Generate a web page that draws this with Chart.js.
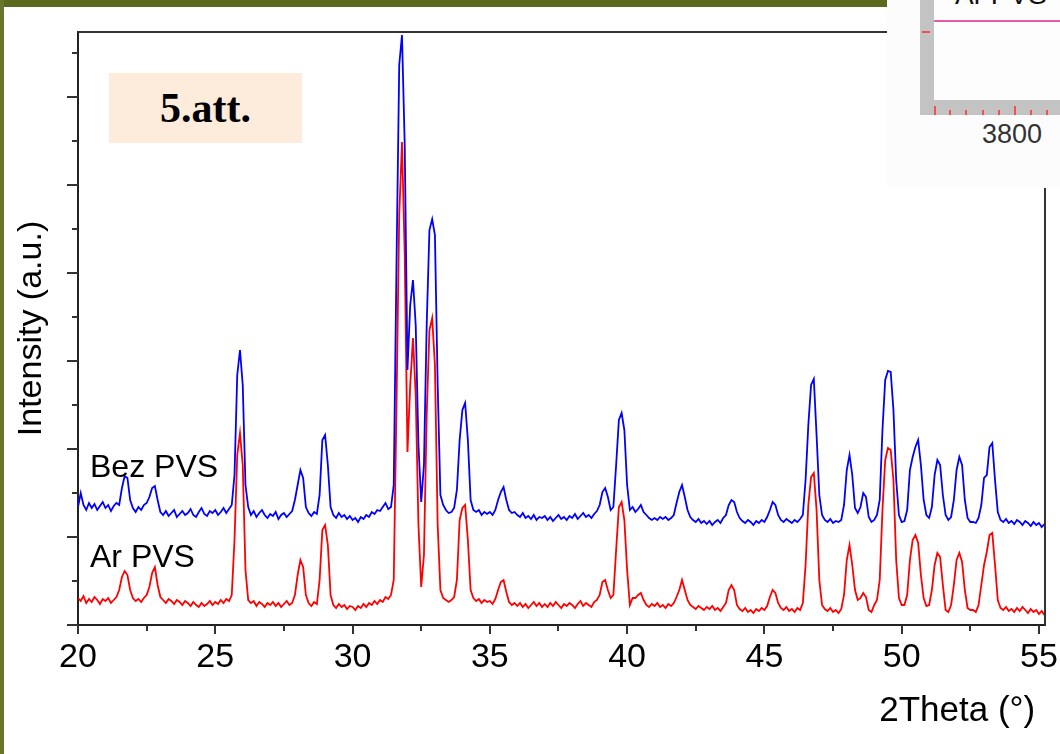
<!DOCTYPE html>
<html>
<head>
<meta charset="utf-8">
<script src="https://cdn.jsdelivr.net/npm/chart.js@4.4.1/dist/chart.umd.min.js"></script>
<style>
  html, body { margin: 0; padding: 0; background: #fff; }
  #wrap { position: relative; width: 1060px; height: 754px; overflow: hidden; background: #fff; }
  #myChart { position: absolute; left: 0; top: 0; }
  .bar-top { position: absolute; left: 0; top: 0; width: 887px; height: 7px; background: #5b6a1d; }
  .bar-left { position: absolute; left: 0; top: 0; width: 4px; height: 754px; background: #66762a; }
  .tag { position: absolute; left: 109px; top: 73px; width: 193px; height: 70px; background: #fdebdc;
         font: bold 42px "Liberation Serif", "Times New Roman", serif; color: #000;
         display: flex; align-items: center; justify-content: center; }
  .series-label { position: absolute; font: 32px "Liberation Sans", Arial, sans-serif; color: #000; line-height: 1; }
  .inset { position: absolute; left: 887px; top: 0; width: 173px; height: 188px; background: #fcfcfc; overflow: hidden; }
  .inset .gv { position: absolute; left: 33px; top: 0; width: 14px; height: 115px; background: #c3c3c3; }
  .inset .gh { position: absolute; left: 33px; top: 100px; width: 140px; height: 15px; background: #c3c3c3; }
  .inset .plot { position: absolute; left: 47px; top: 0; width: 126px; height: 100px; background: #fdfdfd; }
  .inset .trace { position: absolute; left: 47px; top: 20px; width: 126px; height: 2px; background: #e85aa5; }
  .inset .cut { position: absolute; left: 68px; top: -21px; font: 28px "Liberation Sans", Arial, sans-serif; color: #111; }
  .inset .num { position: absolute; left: 95px; top: 119px; font: 27px "Liberation Sans", Arial, sans-serif; color: #333; }
  .inset .rt { position: absolute; width: 2px; background: #f05050; }
</style>
</head>
<body>
<div id="wrap">
  <canvas id="myChart" width="1060" height="754"></canvas>
  <div class="bar-top"></div>
  <div class="bar-left"></div>
  <div class="tag">5.att.</div>
  <div class="series-label" style="left:90px; top:450px;">Bez PVS</div>
  <div class="series-label" style="left:90px; top:540px;">Ar PVS</div>
  <div class="inset">
    <div class="plot"></div>
    <div class="gv"></div>
    <div class="gh"></div>
    <div class="trace"></div>
    <div class="cut">Ar PVS</div>
    <div class="rt" style="left:35px; top:31px; width:8px; height:2px;"></div>
    <div class="rt" style="left:47px; top:106px; height:9px;"></div>
    <div class="rt" style="left:62px; top:110px; height:5px;"></div>
    <div class="rt" style="left:78px; top:110px; height:5px;"></div>
    <div class="rt" style="left:95px; top:110px; height:5px;"></div>
    <div class="rt" style="left:111px; top:110px; height:5px;"></div>
    <div class="rt" style="left:127px; top:106px; height:9px;"></div>
    <div class="rt" style="left:143px; top:110px; height:5px;"></div>
    <div class="rt" style="left:159px; top:110px; height:5px;"></div>
    <div class="num">3800</div>
  </div>
</div>
<script>
// 2Theta grid: 20.0 .. 55.2 deg, 0.1 deg step
const thetaStart = 20.0;
const thetaStep = 0.1;

// "Bez PVS" (blue, offset trace)
const bezPvs = [
  118, 132, 120, 115, 122, 117, 121, 115, 119, 123,
  117, 120, 114, 119, 122, 120, 137, 149, 147, 125,
  117, 113, 118, 115, 120, 122, 128, 137, 139, 125,
  113, 110, 114, 109, 112, 115, 108, 111, 114, 110,
  112, 116, 110, 108, 113, 117, 111, 109, 114, 112,
  115, 110, 113, 117, 112, 116, 120, 150, 250, 275,
  240, 140, 118, 110, 114, 108, 112, 115, 110, 107,
  111, 109, 113, 106, 110, 112, 108, 111, 114, 125,
  140, 155, 147, 118, 112, 109, 113, 111, 130, 185,
  190, 160, 118, 110, 107, 112, 108, 110, 106, 109,
  105, 107, 103, 108, 106, 110, 108, 113, 111, 115,
  114, 118, 122, 116, 118, 140, 360, 560, 590, 480,
  255, 320, 345, 300, 180, 123, 160, 300, 395, 406,
  390, 240, 130, 120, 115, 112, 113, 117, 135, 185,
  215, 222, 185, 125, 115, 113, 115, 110, 113, 111,
  113, 110, 115, 125, 133, 138, 125, 115, 112, 113,
  110, 108, 112, 107, 109, 106, 110, 105, 108, 107,
  109, 105, 108, 104, 107, 110, 106, 108, 105, 109,
  107, 111, 106, 109, 112, 108, 110, 107, 111, 114,
  120, 133, 137, 128, 115, 118, 160, 205, 212, 195,
  140, 115, 118, 113, 116, 120, 113, 110, 107, 105,
  107, 105, 108, 106, 108, 105, 107, 110, 122, 133,
  140, 128, 115, 108, 105, 103, 106, 102, 104, 101,
  104, 100, 103, 105, 102, 107, 110, 120, 125, 123,
  113, 107, 104, 102, 105, 103, 100, 104, 102, 105,
  103, 108, 115, 123, 120, 110, 105, 103, 106, 104,
  102, 105, 103, 106, 110, 145, 200, 240, 246, 190,
  130, 110, 105, 103, 106, 102, 104, 103, 105, 120,
  155, 170, 150, 117, 112, 118, 132, 128, 108, 103,
  105, 110, 125, 195, 245, 254, 253, 215, 145, 110,
  103, 104, 115, 155, 168, 178, 185, 160, 125, 110,
  107, 118, 150, 165, 160, 130, 110, 105, 108, 125,
  155, 168, 160, 125, 107, 103, 103, 102, 107, 120,
  147, 150, 178, 182, 145, 113, 105, 103, 106, 102,
  104, 101, 105, 103, 100, 104, 102, 99, 103, 100,
  102, 98, 101
];

// "Ar PVS" (red)
const arPvs = [
  27, 24, 29, 22, 26, 23, 28, 25, 21, 26,
  24, 27, 22, 25, 28, 35, 48, 54, 50, 35,
  27, 24, 26, 23, 27, 30, 38, 52, 58, 40,
  28, 25, 22, 26, 24, 21, 25, 23, 20, 24,
  22, 19, 23, 20, 18, 22, 19, 21, 24, 20,
  23, 21, 25, 22, 26, 24, 30, 85, 170, 192,
  160, 55, 25, 22, 24, 19, 23, 21, 18, 22,
  20, 23, 19, 22, 18, 21, 24, 20, 22, 30,
  50, 65, 58, 30, 22, 19, 23, 21, 45, 95,
  100, 80, 30, 20, 17, 21, 18, 20, 16, 19,
  18, 15, 19, 17, 21, 18, 22, 20, 24, 21,
  25, 23, 28, 26, 30, 45, 220, 410, 483, 370,
  173, 240, 287, 230, 100, 38, 70, 210, 295, 307,
  260, 100, 35, 27, 25, 23, 25, 28, 45, 105,
  117, 120, 85, 35, 27, 24, 26, 22, 25, 23,
  24, 21, 26, 35, 43, 45, 33, 23, 20, 22,
  19, 22, 18, 21, 17, 20, 23, 19, 22, 18,
  21, 18, 22, 19, 23, 20, 17, 21, 19, 22,
  20, 17, 21, 24, 19, 22, 20, 18, 23, 25,
  30, 43, 45, 35, 27, 30, 75, 118, 123, 105,
  55, 20, 27, 27, 30, 32, 25, 20, 18, 21,
  19, 22, 18, 20, 17, 21, 19, 22, 28, 35,
  45, 35, 25, 20, 18, 16, 19, 17, 15, 18,
  16, 19, 15, 17, 14, 18, 22, 35, 40, 35,
  20, 16, 14, 17, 13, 15, 12, 16, 14, 17,
  15, 19, 28, 35, 32, 22, 17, 15, 18, 14,
  16, 13, 17, 15, 22, 60, 120, 148, 152, 115,
  45, 20, 16, 14, 17, 13, 15, 12, 16, 30,
  65, 80, 60, 35, 25, 27, 32, 28, 15, 13,
  20, 25, 45, 115, 165, 177, 175, 145, 65, 27,
  20, 20, 30, 65, 85, 90, 82, 50, 27, 19,
  20, 35, 60, 72, 68, 40, 15, 13, 20, 40,
  65, 72, 63, 35, 17, 15, 15, 13, 20, 40,
  60, 73, 90, 92, 60, 25, 17, 15, 18, 14,
  16, 13, 17, 14, 18, 15, 12, 16, 13, 15,
  11, 14, 10
];

// axis ticks
const xMajorTicks = [20, 25, 30, 35, 40, 45, 50, 55];
const xMinorTicks = [22.5, 27.5, 32.5, 37.5, 42.5, 47.5, 52.5];
const yMajorTicks = [0, 88, 176, 264, 352, 440, 528];
const yMinorTicks = [44, 132, 220, 308, 396, 484, 572];

const theta = bezPvs.map((_, i) => +(thetaStart + i * thetaStep).toFixed(1));
const toPoints = (vals) => vals.map((v, i) => ({ x: theta[i], y: v }));

const font = '"Liberation Sans", Arial, sans-serif';

// frame + tick marks (Chart.js has no minor ticks)
const frameTicks = {
  id: "frameTicks",
  afterDraw(chart) {
    const { ctx, chartArea: a, scales: { x, y } } = chart;
    ctx.save();
    ctx.strokeStyle = "#333";
    ctx.lineWidth = 2;
    ctx.beginPath();
    ctx.moveTo(a.left, a.top);
    ctx.lineTo(a.right, a.top);
    ctx.lineTo(a.right, a.bottom);
    xMajorTicks.forEach((v) => {
      const px = Math.round(x.getPixelForValue(v));
      ctx.moveTo(px, a.bottom);
      ctx.lineTo(px, a.bottom + 9);
    });
    xMinorTicks.forEach((v) => {
      const px = Math.round(x.getPixelForValue(v));
      ctx.moveTo(px, a.bottom);
      ctx.lineTo(px, a.bottom + 6);
    });
    yMajorTicks.forEach((v) => {
      const py = Math.round(y.getPixelForValue(v));
      ctx.moveTo(a.left, py);
      ctx.lineTo(a.left - 11, py);
    });
    yMinorTicks.forEach((v) => {
      const py = Math.round(y.getPixelForValue(v));
      ctx.moveTo(a.left, py);
      ctx.lineTo(a.left - 6, py);
    });
    ctx.stroke();
    ctx.restore();
  },
};

const ctx = document.getElementById("myChart");

new Chart(ctx, {
  type: "line",
  data: {
    datasets: [
      {
        label: "Bez PVS",
        data: toPoints(bezPvs),
        borderColor: "#0000ff",
        borderWidth: 1.8,
        pointRadius: 0,
        tension: 0,
      },
      {
        label: "Ar PVS",
        data: toPoints(arPvs),
        borderColor: "#ff0000",
        borderWidth: 1.8,
        pointRadius: 0,
        tension: 0,
      },
    ],
  },
  options: {
    responsive: false,
    devicePixelRatio: 1,
    animation: false,
    layout: { padding: { top: 32, right: 15, left: 0, bottom: 0 } },
    plugins: {
      legend: { display: false },
      tooltip: { enabled: false },
    },
    scales: {
      x: {
        type: "linear",
        min: 20,
        max: 55.22,
        grid: { display: false, drawTicks: false },
        border: { display: true, color: "#222", width: 2 },
        ticks: {
          stepSize: 5,
          includeBounds: false,
          autoSkip: false,
          maxRotation: 0,
          padding: 12,
          color: "#000",
          font: { family: font, size: 34 },
        },
        title: {
          display: true,
          text: "2Theta (°) ",
          align: "end",
          color: "#000",
          font: { family: font, size: 35 },
          padding: { top: 0, bottom: 22 },
        },
        afterFit(scale) {
          scale.height = 129;
          scale.paddingLeft = 0;
          scale.paddingRight = 0;
        },
      },
      y: {
        min: 0,
        max: 593,
        grid: { display: false, drawTicks: false },
        border: { display: true, color: "#222", width: 2 },
        ticks: { display: false },
        title: {
          display: true,
          text: "Intensity (a.u.)",
          color: "#000",
          font: { family: font, size: 34 },
          padding: { top: 11, bottom: 0 },
        },
        afterFit(scale) {
          scale.width = 78;
        },
      },
    },
  },
  plugins: [frameTicks],
});
</script>
</body>
</html>
